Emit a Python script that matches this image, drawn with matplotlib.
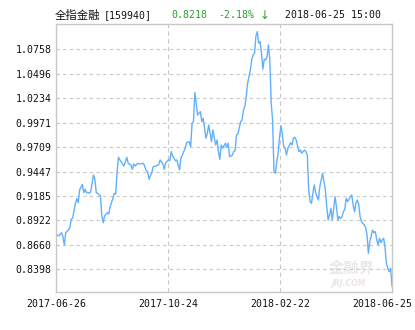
import matplotlib
matplotlib.use("Agg")
import matplotlib.pyplot as plt
from matplotlib.transforms import ScaledTranslation

# ---- data (trading-day offset from 2017-06-26, NAV) ----
days = [0, 2, 4, 5, 6, 7, 9, 10, 11, 12, 14, 15, 16, 17, 19, 20, 21, 22, 23, 24,
        25, 27, 28, 29, 30, 32, 33, 34, 35, 37, 38, 39, 41, 42, 43, 44, 45, 46, 48, 49,
        51, 52, 54, 55, 56, 57, 59, 60, 63, 65, 66, 67, 69, 70, 72, 74, 75, 77, 78, 79,
        81, 82, 83, 84, 86, 87, 89, 90, 91, 93, 94, 96, 97, 98, 99, 100, 101, 102, 104, 105,
        106, 108, 109, 110, 112, 113, 115, 116, 117, 118, 119, 120, 122, 123, 124, 125, 127, 128, 129, 130,
        131, 133, 134, 135, 136, 137, 138, 140, 141, 142, 143, 144, 145, 146, 147, 148, 149, 150, 151, 152,
        153, 154, 155, 156, 157, 158, 159, 160, 161, 162, 163, 164, 165, 166, 167, 169, 170, 171, 172, 173,
        174, 175, 176, 177, 178, 179, 180, 181, 182, 183, 184, 185, 186, 187, 188, 189, 190, 192, 193, 194,
        195, 196, 197, 198, 199, 200, 201, 202, 203, 204, 205, 206, 207, 208, 209, 210, 211, 212, 213, 214,
        215, 216, 217, 218, 219, 220, 222, 223, 224, 225, 226, 227, 228, 229, 230, 231, 232, 233, 234, 235,
        236, 237, 238, 239, 240, 241, 242]
nav = [0.8774, 0.8756, 0.8791, 0.8748, 0.8659, 0.8791, 0.8820, 0.8849, 0.8935, 0.8949,
       0.9106, 0.9156, 0.9113, 0.9249, 0.9310, 0.9220, 0.9257, 0.9220, 0.9224, 0.9214,
       0.9231, 0.9410, 0.9364, 0.9220, 0.9214, 0.9185, 0.8970, 0.8898, 0.8970, 0.9006,
       0.8992, 0.9070, 0.9160, 0.9214, 0.9206, 0.9445, 0.9600, 0.9571, 0.9528, 0.9507,
       0.9600, 0.9535, 0.9517, 0.9471, 0.9528, 0.9507, 0.9535, 0.9528, 0.9535, 0.9456,
       0.9445, 0.9364, 0.9435, 0.9499, 0.9507, 0.9520, 0.9571, 0.9528, 0.9471, 0.9542,
       0.9571, 0.9563, 0.9660, 0.9614, 0.9563, 0.9571, 0.9464, 0.9596, 0.9624, 0.9696,
       0.9756, 0.9767, 0.9714, 0.9964, 0.9982, 1.0293, 1.0179, 1.0053, 1.0089, 0.9982,
       1.0018, 0.9804, 0.9857, 0.9946, 0.9767, 0.9893, 0.9732, 0.9785, 0.9660, 0.9578,
       0.9732, 0.9696, 0.9750, 0.9707, 0.9750, 0.9606, 0.9624, 0.9660, 0.9671, 0.9839,
       0.9850, 0.9982, 1.0000, 1.0107, 1.0142, 1.0250, 1.0393, 1.0536, 1.0651, 1.0697,
       1.0715, 1.0901, 1.0947, 1.0822, 1.0840, 1.0715, 1.0544, 1.0651, 1.0643, 1.0679,
       1.0804, 1.0643, 1.0179, 1.0000, 0.9445, 0.9428, 0.9553, 0.9643, 0.9821, 0.9935,
       0.9857, 0.9714, 0.9696, 0.9624, 0.9696, 0.9756, 0.9732, 0.9804, 0.9814, 0.9785,
       0.9721, 0.9660, 0.9678, 0.9643, 0.9660, 0.9678, 0.9660, 0.9624, 0.9249, 0.9124,
       0.9106, 0.9214, 0.9303, 0.9220, 0.9177, 0.9142, 0.9285, 0.9428, 0.9338, 0.9249,
       0.9070, 0.8927, 0.8981, 0.9053, 0.8927, 0.9053, 0.9177, 0.9070, 0.8927, 0.8963,
       0.8946, 0.8963, 0.9016, 0.9042, 0.9160, 0.9124, 0.9149, 0.9177, 0.9195, 0.9088,
       0.9016, 0.9106, 0.9142, 0.9099, 0.8963, 0.8909, 0.8874, 0.8849, 0.8767, 0.8570,
       0.8695, 0.8756, 0.8820, 0.8791, 0.8802, 0.8713, 0.8659, 0.8731, 0.8684, 0.8713,
       0.8731, 0.8624, 0.8463, 0.8409, 0.8373, 0.8409, 0.8218]

y_ticks = [0.8398, 0.8660, 0.8922, 0.9185, 0.9447, 0.9709, 0.9971, 1.0234, 1.0496, 1.0758]
x_labels = ["2017-06-26", "2017-10-24", "2018-02-22", "2018-06-25"]
n_days = 243

title_name = "全指金融"
title_code = "[159940]"
last_price = "0.8218"
change = "-2.18%"
arrow = "↓"
stamp = "2018-06-25 15:00"

# ---- figure ----
W, H = 415, 330
fig = plt.figure(figsize=(W / 100, H / 100), dpi=100)
fig.patch.set_facecolor("white")
ax = fig.add_axes([56 / W, (H - 292) / H, 336 / W, 268 / H])

grid_c = "#c8c8c8"
ax.plot(days, nav, color="#62b0fc", lw=1.0, solid_joinstyle="round")

ax.set_xlim(0, n_days - 1)
ax.set_ylim(0.8155, 1.1029)

step = (n_days - 1) / (len(x_labels) - 1)
xt = [i * step for i in range(len(x_labels))]
ax.set_xticks(xt)
ax.set_xticklabels(x_labels)
ax.set_yticks(y_ticks)
ax.set_yticklabels([f"{v:.4f}" for v in y_ticks])

mono = ["DejaVu Sans Mono", "DejaVu Sans"]
for lab in ax.get_xticklabels() + ax.get_yticklabels():
    lab.set_family(mono)
    lab.set_fontsize(7.1)
    lab.set_color("#111111")

ax.tick_params(axis="x", length=0, pad=5)
ax.tick_params(axis="y", length=2.5, direction="in", color=grid_c, pad=3)

# shift last x label so it fits inside the image
xl = ax.get_xticklabels()
xl[-1].set_transform(xl[-1].get_transform() + ScaledTranslation(-10 / 100, 0, fig.dpi_scale_trans))

for s in ax.spines.values():
    s.set_color(grid_c)
    s.set_linewidth(1.0)

for v in y_ticks:
    ax.axhline(v, color=grid_c, lw=0.8, ls=(0, (3, 3)), zorder=0)
for v in xt[1:-1]:
    ax.axvline(v, color=grid_c, lw=0.8, ls=(0, (4, 3)), zorder=0)

# watermark
fig.text(352 / W, 1 - 268 / H, "金融界", family=["Noto Sans CJK SC"], fontsize=11,
         color="#d0d0d0", alpha=0.45, ha="center", va="center", fontweight="bold")
fig.text(348 / W, 1 - 284 / H, "JRJ.COM", family=["DejaVu Sans"], fontsize=5.5,
         color="#d8c8c8", alpha=0.5, ha="center", va="center", style="italic", fontweight="bold")

# title row
ty = 1 - 15.5 / H
fig.text(55 / W, ty, title_name, family=["Noto Sans CJK SC", "DejaVu Sans"], fontsize=8.2,
         color="#111111", ha="left", va="center")
fig.text(104 / W, ty, title_code, family=mono, fontsize=7.1, color="#111111", ha="left", va="center")
green = "#2f9a2f"
fig.text(171 / W, ty, last_price, family=mono, fontsize=7.1, color=green, ha="left", va="center")
fig.text(218 / W, ty, change, family=mono, fontsize=7.1, color=green, ha="left", va="center")
fig.text(260 / W, ty, arrow, family=["DejaVu Sans"], fontsize=8.5, color=green, ha="left", va="center")
fig.text(285 / W, ty, stamp, family=mono, fontsize=7.1, color="#111111", ha="left", va="center")

fig.savefig("out.png", dpi=100, facecolor="white")
